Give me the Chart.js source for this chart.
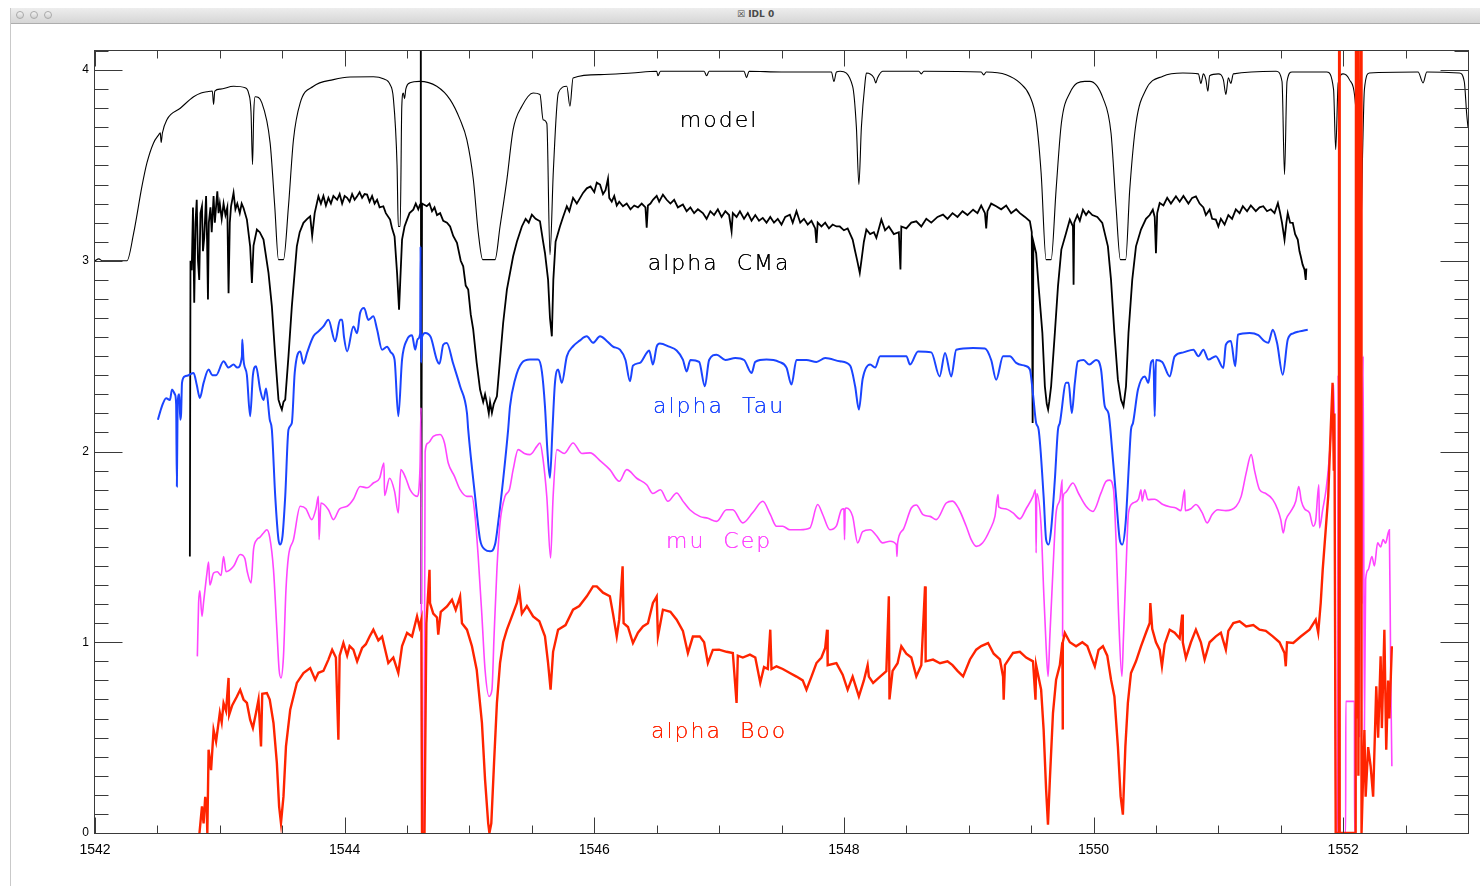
<!DOCTYPE html>
<html>
<head>
<meta charset="utf-8">
<script src="https://cdn.jsdelivr.net/npm/chart.js@4"></script>
<style>
  html, body { margin: 0; padding: 0; background: #fff; }
  #win { position: relative; width: 1480px; height: 886px; overflow: hidden; background: #fff; }
  #edge { position: absolute; left: 10px; top: 8px; width: 1px; height: 878px; background: #c9c9c9; }
  #titlebar { position: absolute; left: 11px; top: 8px; width: 1469px; height: 15px;
    background: linear-gradient(#ededed, #d6d6d6); border-bottom: 1px solid #adadad; }
  .dot { position: absolute; top: 3px; width: 8px; height: 8px; border-radius: 50%;
    background: linear-gradient(#f4f4f4, #cfcfcf); border: 1px solid #a9a9a9; box-sizing: border-box; }
  #title { position: absolute; left: 726px; top: 1px; font: bold 9px "DejaVu Sans", sans-serif; color: #4a4a4a; }
  canvas { position: absolute; left: 0; top: 0; }
</style>
</head>
<body>
<div id="win">
  <div id="edge"></div>
  <div id="titlebar">
    <div class="dot" style="left:5px"></div>
    <div class="dot" style="left:19px"></div>
    <div class="dot" style="left:33px"></div>
    <div id="title">&#x2612; IDL 0</div>
  </div>
  <canvas id="chart" width="1480" height="886"></canvas>
</div>
<script>
// wavelength (Angstrom), flux + offset
let xTicks = [1542, 1544, 1546, 1548, 1550, 1552]
let yTicks = [0, 1, 2, 3, 4]

let labelNames = ['model', 'alpha  CMa', 'alpha  Tau', 'mu  Cep', 'alpha  Boo']
let labelY = [3.70, 2.95, 2.20, 1.495, 0.50]
let labelX = 1547

let model = [[1542.0,3.0],[1542.03,3.01],[1542.06,3.0],[1542.256,3.0],[1542.31,3.146],[1542.376,3.39],[1542.416,3.513],[1542.469,3.618],[1542.51,3.66],[1542.523,3.671],[1542.53,3.62],[1542.54,3.67],[1542.576,3.74],[1542.683,3.80],[1542.79,3.86],[1542.85,3.88],[1542.897,3.886],[1542.94,3.89],[1542.95,3.82],[1542.96,3.89],[1543.003,3.90],[1543.11,3.915],[1543.203,3.907],[1543.23,3.88],[1543.25,3.78],[1543.262,3.505],[1543.272,3.78],[1543.283,3.86],[1543.337,3.828],[1543.403,3.618],[1543.44,3.286],[1543.47,3.006],[1543.51,3.006],[1543.55,3.286],[1543.59,3.635],[1543.644,3.828],[1543.75,3.915],[1543.91,3.95],[1544.044,3.964],[1544.23,3.965],[1544.31,3.954],[1544.364,3.924],[1544.39,3.854],[1544.42,3.5],[1544.43,3.18],[1544.445,3.18],[1544.458,3.81],[1544.47,3.88],[1544.48,3.85],[1544.49,3.9],[1544.524,3.933],[1544.60,3.941],[1544.738,3.915],[1544.845,3.845],[1544.925,3.74],[1544.979,3.635],[1545.031,3.426],[1545.071,3.146],[1545.106,3.006],[1545.205,3.006],[1545.245,3.18],[1545.30,3.426],[1545.35,3.688],[1545.42,3.81],[1545.51,3.88],[1545.565,3.872],[1545.59,3.74],[1545.62,3.72],[1545.645,3.032],[1545.672,3.47],[1545.712,3.88],[1545.78,3.915],[1545.805,3.81],[1545.83,3.959],[1546.045,3.976],[1546.3,3.985],[1546.5,3.994],[1546.51,3.97],[1546.53,3.994],[1546.88,3.994],[1546.9,3.97],[1546.92,3.994],[1547.2,3.994],[1547.22,3.96],[1547.24,3.994],[1547.5,3.99],[1547.9,3.99],[1547.92,3.94],[1547.94,3.99],[1547.97,3.994],[1548.07,3.915],[1548.1,3.7],[1548.12,3.40],[1548.14,3.7],[1548.17,3.94],[1548.18,3.985],[1548.24,3.96],[1548.255,3.933],[1548.27,3.96],[1548.31,3.994],[1548.6,3.994],[1548.62,3.98],[1548.64,3.994],[1549.1,3.99],[1549.12,3.975],[1549.14,3.99],[1549.30,3.976],[1549.41,3.933],[1549.49,3.863],[1549.54,3.74],[1549.58,3.46],[1549.62,3.006],[1549.66,3.006],[1549.70,3.373],[1549.742,3.72],[1549.81,3.88],[1549.93,3.941],[1549.97,3.941],[1550.075,3.854],[1550.14,3.67],[1550.18,3.286],[1550.215,3.006],[1550.257,3.006],[1550.29,3.373],[1550.34,3.72],[1550.42,3.898],[1550.556,3.968],[1550.716,3.985],[1550.84,3.98],[1550.86,3.93],[1550.88,3.98],[1550.9,3.95],[1550.916,3.889],[1550.93,3.97],[1551.0,3.98],[1551.04,3.95],[1551.06,3.872],[1551.08,3.96],[1551.1,3.93],[1551.12,3.98],[1551.463,3.994],[1551.51,3.94],[1551.53,3.452],[1551.55,3.94],[1551.59,3.99],[1551.87,3.99],[1551.923,3.898],[1551.94,3.583],[1551.96,3.93],[1552.0,3.98],[1552.05,3.95],[1552.10,3.81],[1552.12,3.46],[1552.14,3.12],[1552.155,3.55],[1552.17,3.898],[1552.21,3.985],[1552.6,3.99],[1552.64,3.933],[1552.67,3.99],[1552.93,3.985],[1552.97,3.94],[1552.99,3.766],[1553.0,3.7]]

let alphaCMa = [[1542.76,1.45],[1542.765,3.0],[1542.775,2.95],[1542.785,3.28],[1542.795,2.78],[1542.805,3.2],[1542.815,3.32],[1542.825,3.0],[1542.835,2.9],[1542.845,3.25],[1542.857,3.286],[1542.865,3.05],[1542.875,3.12],[1542.89,3.34],[1542.898,3.1],[1542.905,2.797],[1542.912,3.2],[1542.925,3.28],[1542.935,3.15],[1542.95,3.34],[1542.96,3.2],[1542.972,3.3],[1542.98,3.364],[1542.99,3.25],[1543.0,3.3],[1543.015,3.22],[1543.03,3.30],[1543.045,3.24],[1543.06,3.28],[1543.07,2.83],[1543.08,3.2],[1543.09,3.286],[1543.11,3.356],[1543.125,3.27],[1543.14,3.3],[1543.16,3.25],[1543.175,3.3],[1543.19,3.277],[1543.217,3.216],[1543.243,3.076],[1543.257,2.884],[1543.27,3.08],[1543.297,3.164],[1543.32,3.15],[1543.35,3.111],[1543.39,2.937],[1543.417,2.761],[1543.444,2.499],[1543.47,2.272],[1543.485,2.24],[1543.497,2.22],[1543.51,2.26],[1543.524,2.272],[1543.55,2.499],[1543.577,2.761],[1543.617,3.076],[1543.64,3.15],[1543.67,3.199],[1543.70,3.22],[1543.724,3.233],[1543.74,3.13],[1543.76,3.25],[1543.79,3.338],[1543.81,3.30],[1543.83,3.34],[1543.85,3.29],[1543.87,3.33],[1543.89,3.30],[1543.91,3.34],[1543.94,3.32],[1543.96,3.35],[1543.98,3.30],[1544.0,3.34],[1544.02,3.33],[1544.04,3.31],[1544.06,3.35],[1544.08,3.32],[1544.1,3.338],[1544.12,3.36],[1544.14,3.33],[1544.16,3.35],[1544.18,3.347],[1544.2,3.31],[1544.22,3.34],[1544.24,3.30],[1544.26,3.32],[1544.28,3.28],[1544.31,3.286],[1544.33,3.25],[1544.364,3.216],[1544.38,3.17],[1544.40,3.128],[1544.42,2.937],[1544.436,2.744],[1544.446,2.9],[1544.46,3.111],[1544.48,3.18],[1544.5,3.216],[1544.52,3.25],[1544.55,3.268],[1544.57,3.3],[1544.59,3.27],[1544.604,3.294],[1544.61,4.6],[1544.614,1.2],[1544.62,3.3],[1544.658,3.286],[1544.68,3.3],[1544.7,3.26],[1544.72,3.28],[1544.74,3.24],[1544.765,3.25],[1544.79,3.21],[1544.82,3.2],[1544.845,3.18],[1544.87,3.13],[1544.9,3.094],[1544.93,3.0],[1544.95,2.971],[1544.97,2.87],[1544.99,2.849],[1545.01,2.72],[1545.03,2.64],[1545.058,2.465],[1545.085,2.325],[1545.11,2.26],[1545.125,2.3],[1545.14,2.255],[1545.155,2.2],[1545.165,2.26],[1545.18,2.203],[1545.195,2.25],[1545.22,2.29],[1545.245,2.482],[1545.27,2.674],[1545.30,2.849],[1545.35,3.024],[1545.38,3.1],[1545.42,3.18],[1545.45,3.22],[1545.475,3.2],[1545.50,3.242],[1545.53,3.22],[1545.565,3.207],[1545.59,3.1],[1545.605,3.041],[1545.63,2.9],[1545.645,2.7],[1545.66,2.604],[1545.672,2.9],[1545.69,3.1],[1545.725,3.18],[1545.75,3.23],[1545.78,3.286],[1545.8,3.26],[1545.83,3.33],[1545.86,3.3],[1545.91,3.356],[1545.94,3.38],[1545.97,3.39],[1546.0,3.36],[1546.02,3.41],[1546.046,3.40],[1546.07,3.35],[1546.09,3.37],[1546.11,3.43],[1546.12,3.33],[1546.14,3.31],[1546.16,3.34],[1546.18,3.29],[1546.2,3.31],[1546.23,3.286],[1546.26,3.3],[1546.29,3.27],[1546.32,3.29],[1546.35,3.28],[1546.38,3.30],[1546.41,3.28],[1546.42,3.173],[1546.43,3.29],[1546.45,3.3],[1546.47,3.32],[1546.5,3.34],[1546.52,3.31],[1546.55,3.347],[1546.58,3.32],[1546.61,3.3],[1546.64,3.32],[1546.67,3.28],[1546.71,3.295],[1546.74,3.26],[1546.77,3.28],[1546.8,3.25],[1546.83,3.27],[1546.87,3.25],[1546.9,3.22],[1546.93,3.26],[1546.96,3.24],[1546.99,3.27],[1547.02,3.23],[1547.05,3.26],[1547.08,3.24],[1547.1,3.155],[1547.11,3.25],[1547.14,3.23],[1547.167,3.26],[1547.2,3.22],[1547.23,3.25],[1547.26,3.21],[1547.29,3.24],[1547.32,3.21],[1547.35,3.225],[1547.38,3.2],[1547.41,3.23],[1547.44,3.2],[1547.47,3.22],[1547.5,3.19],[1547.53,3.23],[1547.567,3.242],[1547.59,3.2],[1547.62,3.26],[1547.65,3.2],[1547.68,3.22],[1547.71,3.19],[1547.74,3.21],[1547.77,3.17],[1547.78,3.094],[1547.79,3.2],[1547.82,3.18],[1547.85,3.2],[1547.88,3.17],[1547.91,3.19],[1547.94,3.18],[1547.967,3.18],[1548.0,3.16],[1548.03,3.17],[1548.07,3.111],[1548.09,3.05],[1548.105,3.006],[1548.127,2.937],[1548.14,3.0],[1548.16,3.1],[1548.18,3.164],[1548.21,3.14],[1548.24,3.15],[1548.26,3.12],[1548.3,3.216],[1548.33,3.16],[1548.36,3.18],[1548.4,3.14],[1548.44,3.15],[1548.453,2.954],[1548.46,3.18],[1548.5,3.17],[1548.54,3.2],[1548.58,3.207],[1548.62,3.18],[1548.66,3.22],[1548.7,3.2],[1548.75,3.23],[1548.794,3.242],[1548.83,3.22],[1548.87,3.25],[1548.91,3.23],[1548.95,3.26],[1548.99,3.24],[1549.035,3.268],[1549.07,3.25],[1549.1,3.29],[1549.13,3.25],[1549.14,3.17],[1549.15,3.26],[1549.18,3.3],[1549.22,3.286],[1549.26,3.27],[1549.3,3.29],[1549.34,3.25],[1549.38,3.27],[1549.41,3.25],[1549.45,3.23],[1549.49,3.207],[1549.505,3.15],[1549.512,2.15],[1549.518,3.1],[1549.54,3.04],[1549.56,2.866],[1549.59,2.622],[1549.61,2.342],[1549.625,2.25],[1549.636,2.22],[1549.645,2.26],[1549.66,2.342],[1549.69,2.622],[1549.715,2.866],[1549.742,3.059],[1549.78,3.146],[1549.81,3.216],[1549.835,3.18],[1549.84,2.875],[1549.845,3.2],[1549.87,3.24],[1549.89,3.21],[1549.915,3.268],[1549.94,3.24],[1549.96,3.26],[1549.99,3.24],[1550.03,3.23],[1550.07,3.199],[1550.115,3.076],[1550.14,2.90],[1550.167,2.622],[1550.195,2.377],[1550.22,2.272],[1550.24,2.237],[1550.26,2.342],[1550.28,2.622],[1550.31,2.90],[1550.34,3.076],[1550.38,3.164],[1550.42,3.22],[1550.45,3.24],[1550.475,3.268],[1550.49,3.23],[1550.50,3.04],[1550.51,3.25],[1550.53,3.303],[1550.56,3.29],[1550.59,3.33],[1550.62,3.3],[1550.66,3.338],[1550.69,3.31],[1550.72,3.34],[1550.76,3.3],[1550.79,3.33],[1550.82,3.338],[1550.85,3.3],[1550.88,3.28],[1550.9,3.24],[1550.93,3.268],[1550.95,3.22],[1550.98,3.216],[1551.0,3.18],[1551.02,3.22],[1551.05,3.19],[1551.08,3.24],[1551.11,3.22],[1551.14,3.27],[1551.17,3.25],[1551.196,3.286],[1551.23,3.26],[1551.26,3.29],[1551.3,3.26],[1551.33,3.28],[1551.36,3.286],[1551.39,3.26],[1551.42,3.27],[1551.45,3.25],[1551.477,3.303],[1551.495,3.25],[1551.51,3.199],[1551.53,3.111],[1551.545,3.2],[1551.556,3.25],[1551.575,3.2],[1551.596,3.199],[1551.615,3.14],[1551.636,3.111],[1551.65,3.05],[1551.66,3.024],[1551.675,2.98],[1551.69,2.954],[1551.7,2.90],[1551.705,2.96]]

let alphaTau = [[1542.504,2.167],[1542.536,2.237],[1542.57,2.28],[1542.6,2.27],[1542.617,2.325],[1542.64,2.30],[1542.65,2.25],[1542.656,1.817],[1542.662,2.25],[1542.675,2.3],[1542.683,2.167],[1542.69,2.2],[1542.697,2.36],[1542.72,2.394],[1542.75,2.40],[1542.79,2.412],[1542.815,2.35],[1542.84,2.281],[1542.87,2.36],[1542.91,2.43],[1542.94,2.40],[1542.97,2.40],[1543.03,2.473],[1543.07,2.44],[1543.11,2.456],[1543.14,2.44],[1543.177,2.499],[1543.18,2.587],[1543.19,2.48],[1543.217,2.40],[1543.243,2.185],[1543.265,2.40],[1543.29,2.447],[1543.323,2.325],[1543.35,2.27],[1543.37,2.33],[1543.40,2.167],[1543.417,2.115],[1543.444,1.765],[1543.47,1.538],[1543.484,1.512],[1543.502,1.555],[1543.524,1.765],[1543.55,2.115],[1543.577,2.15],[1543.6,2.412],[1543.644,2.525],[1543.67,2.46],[1543.7,2.52],[1543.75,2.604],[1543.79,2.63],[1543.83,2.656],[1543.87,2.691],[1543.924,2.578],[1543.964,2.691],[1543.98,2.691],[1543.995,2.6],[1544.02,2.525],[1544.07,2.656],[1544.1,2.62],[1544.124,2.727],[1544.156,2.753],[1544.19,2.69],[1544.23,2.709],[1544.26,2.64],[1544.30,2.534],[1544.34,2.55],[1544.37,2.52],[1544.40,2.482],[1544.43,2.185],[1544.46,2.482],[1544.5,2.587],[1544.54,2.61],[1544.565,2.534],[1544.585,2.59],[1544.605,2.62],[1544.608,3.076],[1544.612,2.465],[1544.62,2.60],[1544.645,2.622],[1544.69,2.6],[1544.738,2.482],[1544.76,2.46],[1544.79,2.56],[1544.818,2.569],[1544.87,2.46],[1544.925,2.342],[1544.98,2.202],[1544.99,2.115],[1545.045,1.765],[1545.085,1.538],[1545.125,1.486],[1545.165,1.477],[1545.205,1.512],[1545.23,1.626],[1545.27,1.853],[1545.31,2.115],[1545.325,2.237],[1545.365,2.377],[1545.42,2.465],[1545.485,2.482],[1545.55,2.482],[1545.58,2.42],[1545.605,2.237],[1545.625,2.0],[1545.645,1.862],[1545.665,2.115],[1545.685,2.36],[1545.71,2.43],[1545.74,2.36],[1545.78,2.499],[1545.83,2.552],[1545.88,2.58],[1545.94,2.604],[1545.99,2.57],[1546.046,2.604],[1546.1,2.58],[1546.15,2.55],[1546.206,2.534],[1546.25,2.48],[1546.286,2.368],[1546.31,2.45],[1546.366,2.465],[1546.42,2.517],[1546.44,2.53],[1546.47,2.456],[1546.5,2.55],[1546.525,2.566],[1546.6,2.55],[1546.66,2.53],[1546.71,2.482],[1546.74,2.42],[1546.77,2.48],[1546.84,2.47],[1546.886,2.342],[1546.92,2.48],[1546.98,2.508],[1547.05,2.48],[1547.13,2.49],[1547.2,2.48],[1547.26,2.412],[1547.29,2.47],[1547.38,2.482],[1547.48,2.47],[1547.54,2.44],[1547.58,2.351],[1547.62,2.48],[1547.7,2.48],[1547.78,2.47],[1547.85,2.49],[1547.967,2.473],[1548.05,2.45],[1548.09,2.342],[1548.12,2.22],[1548.15,2.38],[1548.21,2.456],[1548.25,2.44],[1548.29,2.499],[1548.4,2.50],[1548.5,2.50],[1548.53,2.456],[1548.594,2.525],[1548.7,2.52],[1548.767,2.394],[1548.81,2.517],[1548.86,2.394],[1548.90,2.534],[1549.035,2.543],[1549.13,2.54],[1549.18,2.48],[1549.22,2.377],[1549.275,2.499],[1549.33,2.50],[1549.38,2.465],[1549.45,2.45],[1549.49,2.43],[1549.515,2.3],[1549.54,2.15],[1549.56,2.115],[1549.60,1.765],[1549.62,1.538],[1549.64,1.512],[1549.66,1.59],[1549.69,1.853],[1549.715,2.115],[1549.73,2.15],[1549.78,2.36],[1549.80,2.36],[1549.826,2.202],[1549.85,2.36],[1549.874,2.473],[1549.92,2.48],[1549.966,2.456],[1550.02,2.48],[1550.06,2.43],[1550.09,2.237],[1550.12,2.2],[1550.15,2.0],[1550.18,1.765],[1550.21,1.538],[1550.23,1.512],[1550.257,1.626],[1550.284,1.94],[1550.3,2.115],[1550.316,2.15],[1550.356,2.325],[1550.41,2.394],[1550.44,2.36],[1550.46,2.465],[1550.48,2.48],[1550.49,2.185],[1550.50,2.48],[1550.55,2.47],[1550.61,2.394],[1550.65,2.499],[1550.72,2.52],[1550.80,2.534],[1550.84,2.50],[1550.88,2.534],[1550.92,2.482],[1550.98,2.50],[1551.04,2.438],[1551.06,2.56],[1551.10,2.58],[1551.135,2.447],[1551.157,2.613],[1551.25,2.622],[1551.32,2.61],[1551.37,2.578],[1551.40,2.57],[1551.436,2.639],[1551.47,2.57],[1551.516,2.403],[1551.556,2.587],[1551.6,2.62],[1551.65,2.63],[1551.716,2.639]]

let muCep = [[1542.82,0.926],[1542.83,1.206],[1542.84,1.27],[1542.857,1.136],[1542.87,1.21],[1542.897,1.363],[1542.91,1.42],[1542.92,1.3],[1542.95,1.363],[1542.98,1.37],[1543.01,1.35],[1543.03,1.45],[1543.05,1.37],[1543.11,1.398],[1543.163,1.46],[1543.2,1.44],[1543.22,1.37],[1543.25,1.311],[1543.27,1.486],[1543.297,1.538],[1543.32,1.55],[1543.35,1.573],[1543.377,1.59],[1543.40,1.55],[1543.43,1.381],[1543.457,1.066],[1543.475,0.856],[1543.49,0.813],[1543.51,0.926],[1543.53,1.276],[1543.55,1.45],[1543.59,1.538],[1543.644,1.713],[1543.69,1.70],[1543.737,1.643],[1543.77,1.70],[1543.79,1.765],[1543.795,1.538],[1543.81,1.73],[1543.87,1.695],[1543.91,1.643],[1543.96,1.70],[1544.02,1.713],[1544.07,1.75],[1544.124,1.817],[1544.18,1.81],[1544.23,1.835],[1544.28,1.86],[1544.315,1.94],[1544.32,1.77],[1544.36,1.86],[1544.40,1.791],[1544.43,1.678],[1544.45,1.905],[1544.49,1.86],[1544.524,1.80],[1544.58,1.765],[1544.604,1.922],[1544.612,2.23],[1544.618,0.0],[1544.635,0.0],[1544.645,2.0],[1544.67,2.045],[1544.71,2.08],[1544.765,2.089],[1544.80,2.045],[1544.83,1.94],[1544.88,1.87],[1544.925,1.80],[1544.98,1.765],[1545.02,1.765],[1545.045,1.66],[1545.07,1.45],[1545.1,1.136],[1545.125,0.856],[1545.157,0.716],[1545.18,0.75],[1545.197,1.031],[1545.22,1.381],[1545.245,1.626],[1545.285,1.765],[1545.32,1.80],[1545.35,1.905],[1545.39,2.01],[1545.44,1.99],[1545.485,1.984],[1545.54,2.027],[1545.565,2.045],[1545.59,1.958],[1545.62,1.76],[1545.65,1.442],[1545.67,1.76],[1545.70,2.01],[1545.76,1.99],[1545.83,2.045],[1545.9,1.99],[1545.966,1.993],[1546.05,1.95],[1546.125,1.905],[1546.2,1.844],[1546.26,1.905],[1546.34,1.86],[1546.42,1.826],[1546.47,1.78],[1546.53,1.80],[1546.59,1.739],[1546.66,1.783],[1546.71,1.74],[1546.766,1.695],[1546.845,1.66],[1546.91,1.65],[1546.98,1.634],[1547.06,1.695],[1547.11,1.695],[1547.19,1.626],[1547.27,1.68],[1547.35,1.739],[1547.41,1.67],[1547.46,1.608],[1547.51,1.608],[1547.567,1.59],[1547.65,1.59],[1547.727,1.599],[1547.79,1.722],[1547.83,1.67],[1547.887,1.59],[1547.94,1.61],[1547.98,1.695],[1548.0,1.70],[1548.005,1.538],[1548.01,1.70],[1548.02,1.704],[1548.07,1.66],[1548.11,1.521],[1548.15,1.58],[1548.21,1.59],[1548.26,1.56],[1548.31,1.521],[1548.37,1.53],[1548.42,1.512],[1548.425,1.45],[1548.43,1.52],[1548.474,1.59],[1548.54,1.704],[1548.58,1.72],[1548.634,1.669],[1548.69,1.66],[1548.74,1.643],[1548.82,1.73],[1548.87,1.74],[1548.92,1.70],[1548.98,1.608],[1549.02,1.538],[1549.06,1.503],[1549.11,1.52],[1549.17,1.59],[1549.21,1.66],[1549.235,1.774],[1549.24,1.71],[1549.29,1.70],[1549.355,1.678],[1549.41,1.647],[1549.46,1.70],[1549.515,1.765],[1549.535,1.80],[1549.54,1.468],[1549.545,1.78],[1549.58,1.608],[1549.60,1.276],[1549.62,0.979],[1549.636,0.821],[1549.65,1.031],[1549.675,1.381],[1549.70,1.678],[1549.73,1.748],[1549.75,1.853],[1549.752,1.031],[1549.755,1.75],[1549.77,1.783],[1549.835,1.835],[1549.88,1.78],[1549.94,1.713],[1549.995,1.686],[1550.06,1.783],[1550.10,1.844],[1550.13,1.85],[1550.16,1.80],[1550.18,1.538],[1550.20,1.154],[1550.227,0.821],[1550.24,1.031],[1550.26,1.381],[1550.28,1.678],[1550.316,1.73],[1550.36,1.75],[1550.38,1.80],[1550.39,1.74],[1550.41,1.80],[1550.435,1.748],[1550.49,1.75],[1550.556,1.722],[1550.61,1.71],[1550.66,1.704],[1550.70,1.69],[1550.73,1.80],[1550.735,1.69],[1550.78,1.70],[1550.82,1.722],[1550.87,1.68],[1550.91,1.626],[1550.95,1.67],[1550.996,1.695],[1551.06,1.69],[1551.143,1.713],[1551.183,1.765],[1551.223,1.888],[1551.263,1.984],[1551.29,1.90],[1551.33,1.80],[1551.38,1.78],[1551.436,1.748],[1551.476,1.695],[1551.50,1.643],[1551.52,1.573],[1551.54,1.64],[1551.58,1.686],[1551.62,1.739],[1551.644,1.817],[1551.665,1.74],[1551.69,1.70],[1551.73,1.678],[1551.76,1.608],[1551.78,1.64],[1551.805,1.826],[1551.81,1.6],[1551.836,1.695],[1551.863,1.80],[1551.885,1.94],[1551.90,2.08],[1551.915,2.3],[1551.925,2.35],[1551.935,1.5],[1551.94,0.0],[1551.955,0.0],[1551.96,2.4],[1551.97,0.0],[1552.02,0.0],[1552.021,0.69],[1552.09,0.69],[1552.091,0.0],[1552.10,0.0],[1552.105,3.13],[1552.115,1.0],[1552.12,3.0],[1552.13,0.5],[1552.14,2.9],[1552.15,1.2],[1552.16,2.5],[1552.17,0.54],[1552.18,1.33],[1552.2,1.38],[1552.23,1.45],[1552.25,1.40],[1552.276,1.521],[1552.3,1.50],[1552.32,1.538],[1552.34,1.52],[1552.36,1.573],[1552.37,1.59],[1552.38,0.89],[1552.39,0.35]]

let alphaBoo = [[1542.837,0.0],[1542.857,0.14],[1542.87,0.05],[1542.883,0.19],[1542.895,0.12],[1542.90,0.0],[1542.91,0.437],[1542.93,0.33],[1542.95,0.54],[1542.97,0.48],[1543.0,0.63],[1543.015,0.58],[1543.03,0.68],[1543.05,0.64],[1543.07,0.813],[1543.075,0.62],[1543.1,0.67],[1543.137,0.716],[1543.163,0.751],[1543.19,0.70],[1543.217,0.682],[1543.243,0.594],[1543.265,0.55],[1543.29,0.63],[1543.31,0.699],[1543.33,0.454],[1543.34,0.73],[1543.377,0.734],[1543.40,0.70],[1543.43,0.577],[1543.457,0.367],[1543.475,0.14],[1543.49,0.052],[1543.51,0.192],[1543.53,0.454],[1543.564,0.647],[1543.617,0.787],[1543.67,0.839],[1543.724,0.865],[1543.764,0.804],[1543.79,0.84],[1543.83,0.85],[1543.87,0.909],[1543.9,0.961],[1543.93,0.92],[1543.95,0.489],[1543.96,0.93],[1543.99,0.996],[1544.02,0.93],[1544.04,0.98],[1544.07,0.961],[1544.1,0.90],[1544.14,0.97],[1544.17,0.99],[1544.2,1.03],[1544.23,1.066],[1544.27,1.01],[1544.3,1.03],[1544.35,0.891],[1544.39,0.92],[1544.43,0.839],[1544.46,0.98],[1544.5,1.049],[1544.54,1.03],[1544.58,1.136],[1544.6,1.08],[1544.615,1.12],[1544.62,0.0],[1544.64,0.0],[1544.655,1.1],[1544.68,1.38],[1544.684,1.206],[1544.71,1.15],[1544.74,1.13],[1544.75,1.04],[1544.77,1.16],[1544.82,1.188],[1544.86,1.223],[1544.89,1.17],[1544.925,1.24],[1544.94,1.10],[1544.98,1.066],[1545.02,0.979],[1545.058,0.856],[1545.1,0.577],[1545.125,0.28],[1545.15,0.052],[1545.16,0.0],[1545.175,0.05],[1545.197,0.367],[1545.22,0.682],[1545.245,0.891],[1545.27,1.0],[1545.30,1.066],[1545.34,1.136],[1545.38,1.206],[1545.4,1.27],[1545.42,1.15],[1545.46,1.19],[1545.51,1.136],[1545.56,1.11],[1545.605,1.031],[1545.63,0.891],[1545.65,0.751],[1545.67,0.95],[1545.71,1.066],[1545.77,1.09],[1545.83,1.171],[1545.88,1.19],[1545.94,1.241],[1545.99,1.293],[1546.02,1.293],[1546.07,1.26],[1546.125,1.241],[1546.15,1.15],[1546.18,1.031],[1546.2,1.12],[1546.227,1.398],[1546.235,1.1],[1546.27,1.08],[1546.31,0.996],[1546.35,1.05],[1546.39,1.083],[1546.43,1.1],[1546.47,1.206],[1546.50,1.24],[1546.51,1.03],[1546.55,1.171],[1546.61,1.16],[1546.66,1.118],[1546.71,1.06],[1546.75,0.944],[1546.79,1.03],[1546.845,1.031],[1546.88,1.00],[1546.91,0.891],[1546.95,0.96],[1547.0,0.961],[1547.06,0.95],[1547.11,0.944],[1547.14,0.682],[1547.15,0.93],[1547.19,0.92],[1547.247,0.935],[1547.29,0.92],[1547.33,0.787],[1547.36,0.87],[1547.39,0.86],[1547.41,1.066],[1547.42,0.86],[1547.46,0.874],[1547.51,0.86],[1547.567,0.839],[1547.62,0.82],[1547.67,0.80],[1547.70,0.751],[1547.74,0.82],[1547.78,0.891],[1547.82,0.92],[1547.85,0.97],[1547.865,1.066],[1547.87,0.88],[1547.94,0.891],[1547.99,0.83],[1548.03,0.751],[1548.07,0.82],[1548.12,0.716],[1548.16,0.80],[1548.19,0.88],[1548.2,0.82],[1548.234,0.787],[1548.29,0.82],[1548.34,0.848],[1548.36,1.241],[1548.365,0.70],[1548.39,0.85],[1548.43,0.89],[1548.46,0.979],[1548.5,0.94],[1548.54,0.92],[1548.58,0.821],[1548.62,0.88],[1548.65,1.293],[1548.655,0.90],[1548.714,0.909],[1548.77,0.89],[1548.83,0.90],[1548.87,0.88],[1548.91,0.85],[1548.955,0.821],[1549.01,0.91],[1549.06,0.961],[1549.1,0.98],[1549.155,0.996],[1549.2,0.94],[1549.25,0.91],[1549.275,0.821],[1549.28,0.699],[1549.29,0.88],[1549.355,0.944],[1549.41,0.95],[1549.46,0.92],[1549.515,0.90],[1549.535,0.699],[1549.54,0.88],[1549.58,0.751],[1549.60,0.542],[1549.62,0.227],[1549.635,0.044],[1549.65,0.28],[1549.675,0.629],[1549.70,0.804],[1549.73,0.88],[1549.75,1.0],[1549.752,0.542],[1549.755,1.0],[1549.77,1.049],[1549.81,1.0],[1549.86,0.979],[1549.91,1.0],[1549.95,0.98],[1550.0,0.891],[1550.01,0.874],[1550.04,0.96],[1550.075,0.979],[1550.11,0.93],[1550.14,0.804],[1550.167,0.716],[1550.195,0.454],[1550.217,0.192],[1550.235,0.096],[1550.255,0.454],[1550.275,0.682],[1550.30,0.839],[1550.34,0.90],[1550.38,0.979],[1550.42,1.05],[1550.45,1.101],[1550.455,1.206],[1550.47,1.07],[1550.5,1.0],[1550.53,0.96],[1550.548,0.874],[1550.57,0.99],[1550.61,1.066],[1550.65,1.05],[1550.69,1.02],[1550.71,1.145],[1550.715,1.0],[1550.74,0.918],[1550.78,1.00],[1550.82,1.066],[1550.86,1.0],[1550.89,0.909],[1550.93,1.0],[1550.98,1.031],[1551.02,1.05],[1551.06,0.961],[1551.08,1.06],[1551.12,1.101],[1551.17,1.11],[1551.223,1.083],[1551.28,1.09],[1551.33,1.066],[1551.38,1.06],[1551.436,1.031],[1551.49,1.0],[1551.53,0.944],[1551.54,0.874],[1551.55,1.0],[1551.6,0.996],[1551.66,1.03],[1551.73,1.066],[1551.78,1.118],[1551.80,1.05],[1551.82,1.206],[1551.836,1.381],[1551.86,1.59],[1551.88,1.765],[1551.90,2.115],[1551.915,2.36],[1551.925,1.9],[1551.93,2.2],[1551.94,0.0],[1551.965,0.0],[1551.968,5.0],[1551.972,0.0],[1552.1,0.0],[1552.103,5.0],[1552.107,0.6],[1552.118,5.0],[1552.122,0.3],[1552.143,5.0],[1552.147,0.0],[1552.17,0.54],[1552.18,0.19],[1552.2,0.45],[1552.22,0.35],[1552.24,0.19],[1552.265,0.769],[1552.28,0.5],[1552.3,0.926],[1552.31,0.55],[1552.33,1.066],[1552.345,0.437],[1552.36,0.8],[1552.37,0.6],[1552.39,0.979]]

let seriesList = [model, alphaCMa, alphaTau, muCep, alphaBoo]
let seriesColours = ['#000000', '#000000', '#1a44ff', '#ff45ff', '#ff2400']
let seriesWidths = [1.1, 1.8, 2, 1.6, 2.4]
let seriesSmooth = [true, false, true, true, false]
let labelColours = ['#000000', '#000000', '#1a44ff', '#ff45ff', '#ff2400']

let toPoints = (pairs) => pairs.map(([x, y]) => ({ x: x, y: y }))

// idl-style frame: ticks inward on all four sides, labels in the plot
const idlFrame = {
    id: 'idlFrame',
    afterDatasetsDraw(chart) {
        let { ctx, chartArea: a, scales } = chart
        let xs = scales.x, ys = scales.y
        ctx.save()
        ctx.strokeStyle = '#3a3a3a'
        ctx.lineWidth = 1
        let L = Math.round(a.left) - 0.5, R = Math.round(a.right) + 0.5
        let T = Math.round(a.top) - 0.5, B = Math.round(a.bottom) + 0.5
        ctx.strokeRect(L, T, R - L, B - T)

        ctx.beginPath()
        for (let i = 0; i <= 22; i++) {
            let v = 1542 + i * 0.5
            let px = Math.round(xs.getPixelForValue(v)) + 0.5
            let len = (i % 4 == 0) ? 16 : 8
            ctx.moveTo(px, B); ctx.lineTo(px, B - len)
            ctx.moveTo(px, T); ctx.lineTo(px, T + len)
        }
        for (let i = 0; i <= 41; i++) {
            let py = Math.round(ys.getPixelForValue(i / 10)) + 0.5
            let len = (i % 10 == 0) ? 28 : 14
            ctx.moveTo(L, py); ctx.lineTo(L + len, py)
            ctx.moveTo(R, py); ctx.lineTo(R - len, py)
        }
        ctx.stroke()

        ctx.font = '200 22px "DejaVu Sans", sans-serif'
        ctx.textAlign = 'center'
        ctx.textBaseline = 'alphabetic'
        if ('letterSpacing' in ctx) ctx.letterSpacing = '2px'
        labelNames.forEach((name, i) => {
            ctx.fillStyle = labelColours[i]
            let px = xs.getPixelForValue(labelX), py = ys.getPixelForValue(labelY[i])
            ctx.fillText(name, px, py)
            ctx.fillText(name, px, py)
        })
        ctx.restore()
    }
}

let datasets = seriesList.map((s, i) => ({
    data: toPoints(s),
    borderColor: seriesColours[i],
    borderWidth: seriesWidths[i],
    pointRadius: 0,
    cubicInterpolationMode: seriesSmooth[i] ? 'monotone' : 'default',
    tension: 0,
    fill: false,
    order: seriesList.length - i
}))

new Chart(document.getElementById('chart'), {
    type: 'line',
    data: { datasets: datasets },
    options: {
        responsive: false,
        animation: false,
        events: [],
        layout: { padding: { top: 51, right: 12, left: 0, bottom: 0 } },
        plugins: { legend: { display: false }, tooltip: { enabled: false } },
        scales: {
            x: {
                type: 'linear', min: 1542, max: 1553,
                grid: { display: false, drawTicks: false },
                border: { display: false },
                afterBuildTicks: s => { s.ticks = xTicks.map(v => ({ value: v })) },
                afterFit: s => { s.height = 53 },
                ticks: { padding: 9, color: '#000', autoSkip: false, maxRotation: 0,
                    font: { family: '"Liberation Sans", Arial, sans-serif', size: 14 },
                    callback: v => String(v) }
            },
            y: {
                type: 'linear', min: 0, max: 4.1,
                grid: { display: false, drawTicks: false },
                border: { display: false },
                afterBuildTicks: s => { s.ticks = yTicks.map(v => ({ value: v })) },
                afterFit: s => { s.width = 95 },
                ticks: { padding: 6, color: '#000',
                    font: { family: '"Liberation Sans", Arial, sans-serif', size: 12 },
                    callback: v => String(v) }
            }
        }
    },
    plugins: [idlFrame]
})
</script>
</body>
</html>
